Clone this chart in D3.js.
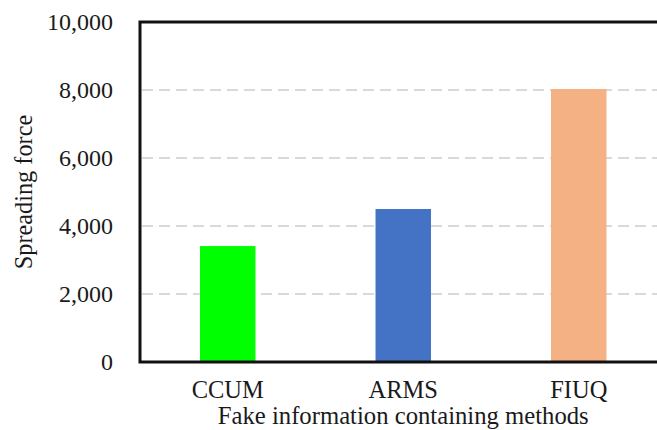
<!DOCTYPE html>
<html>
<head>
<meta charset="utf-8">
<script src="https://cdn.jsdelivr.net/npm/d3@7"></script>
<style>
  html, body { margin: 0; padding: 0; background: #fff; }
  svg { display: block; }
  text { font-family: "Liberation Serif", "Times New Roman", serif; fill: #1a1a1a; }
</style>
</head>
<body>
<svg id="chart" width="657" height="430"></svg>
<script>
const categories = ["CCUM", "ARMS", "FIUQ"];
const values = [3410, 4500, 8030];
const colors = ["#00ff00", "#4472c4", "#f4b183"];
const yTicks = [0, 2000, 4000, 6000, 8000, 10000];
const yTitle = "Spreading force";
const xTitle = "Fake information containing methods";

(function () {
const svg = d3.select("#chart");
const pLeft = 140, pRight = 666.5, pTop = 22, pBottom = 362;

const x = d3.scaleBand().domain(categories).range([pLeft, pRight]).paddingInner(0.684).paddingOuter(0.342);
const y = d3.scaleLinear().domain([0, 10000]).range([pBottom, pTop]);

// gridlines
svg.append("g").selectAll("line").data(yTicks.filter(d => d > 0 && d < 10000)).join("line")
  .attr("x1", pLeft + 2).attr("x2", pRight)
  .attr("y1", d => y(d)).attr("y2", d => y(d))
  .attr("stroke", "#d9d9d9").attr("stroke-width", 2)
  .attr("stroke-dasharray", "11,6");

// bars
svg.append("g").selectAll("rect").data(categories).join("rect")
  .attr("x", d => x(d))
  .attr("width", x.bandwidth())
  .attr("y", (d, i) => y(values[i]))
  .attr("height", (d, i) => y(0) - y(values[i]))
  .attr("fill", (d, i) => colors[i]);

// frame
svg.append("rect").attr("x", pLeft).attr("y", pTop)
  .attr("width", pRight - pLeft).attr("height", pBottom - pTop)
  .attr("fill", "none").attr("stroke", "#111").attr("stroke-width", 3);

// y axis labels
const fmt = d3.format(",");
const yAxis = d3.axisLeft(y).tickValues(yTicks).tickFormat(fmt).tickSize(0).tickPadding(27);
const gy = svg.append("g").attr("transform", `translate(${pLeft},0)`).call(yAxis);
gy.select(".domain").remove();
gy.selectAll("text").attr("font-size", 24).attr("font-family", '"Liberation Serif", serif').attr("fill", "#1a1a1a");

// x axis labels
const xAxis = d3.axisBottom(x).tickSize(0).tickPadding(19);
const gx = svg.append("g").attr("transform", `translate(0,${pBottom})`).call(xAxis);
gx.select(".domain").remove();
gx.selectAll("text").attr("font-size", 24.5).attr("font-family", '"Liberation Serif", serif').attr("fill", "#1a1a1a");

// titles
svg.append("text").attr("x", (pLeft + pRight) / 2).attr("y", 424)
  .attr("text-anchor", "middle").attr("font-size", 24.7).text(xTitle);
svg.append("text").attr("transform", `translate(32,${(pTop + pBottom) / 2}) rotate(-90)`)
  .attr("text-anchor", "middle").attr("font-size", 24.3).text(yTitle);
})();
</script>
</body>
</html>
